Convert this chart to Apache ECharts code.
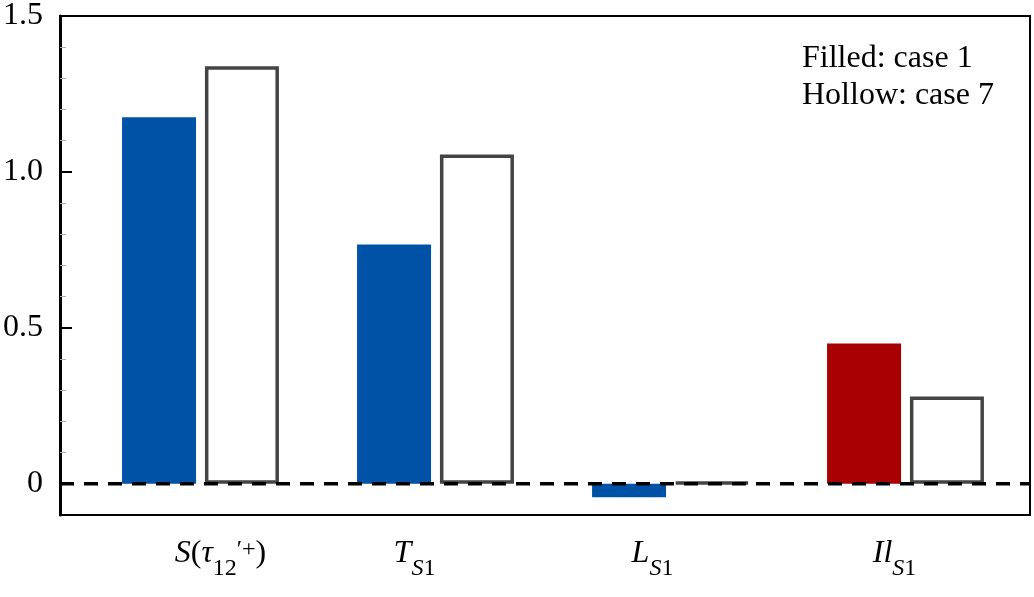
<!DOCTYPE html>
<html>
<head>
<meta charset="utf-8">
<script src="https://cdn.jsdelivr.net/npm/echarts@6/dist/echarts.min.js"></script>
<style>
html,body{margin:0;padding:0;background:#fff;}
#chart{width:1034px;height:597px;}
</style>
</head>
<body>
<div id="chart"></div>
<script>
// ---- data ----
const categories = ['S(τ12′+)', 'T_S1', 'L_S1', 'Il_S1'];
const case1Values = [1.173, 0.766, -0.043, 0.449];   // filled
const case7Values = [1.336, 1.054, 0.005, 0.279];    // hollow
const case1Colors = ['#0052a7', '#0052a7', '#0052a7', '#a80000'];
const majorTicks = [0, 0.5, 1.0, 1.5];
const majorTickLabels = ['0', '0.5', '1.0', '1.5'];
const minorTicks = [0.1, 0.2, 0.3, 0.4, 0.6, 0.7, 0.8, 0.9, 1.1, 1.2, 1.3, 1.4];
const zeroLine = [[0, 0], [1, 0]];
const legendLines = ['Filled: case 1', 'Hollow: case 7'];

// rich-text forms of category labels
const richLabels = {
  'S(τ12′+)': '{padL|\u00a0}{it|S}{rm|(}{it|τ}{sub|12}{sup|′+}{rm|)}',
  'T_S1': '{it|T}{subi|S}{sub|1}{padA|\u00a0}',
  'L_S1': '{it|L}{subi|S}{sub|1}{padB|\u00a0}',
  'Il_S1': '{it|Il}{subi|S}{sub|1}{padC|\u00a0}'
};

const FONT = 'Liberation Serif, Times New Roman, serif';
const chart = echarts.init(document.getElementById('chart'), null, {renderer: 'canvas'});

const subBase = {fontFamily: FONT, fontSize: 24, color: '#000', verticalAlign: 'top', lineHeight: 24, padding: [19, 0, 0, 0]};
const option = {
  animation: false,
  backgroundColor: '#fff',
  grid: [
    {left: 58, right: 4, top: 15, bottom: 82, show: true, borderColor: '#000', borderWidth: 2, backgroundColor: 'transparent'},
    {left: 83, right: 11, top: 15, bottom: 82}
  ],
  xAxis: [
    {gridIndex: 0, type: 'value', min: 0, max: 1, show: false},
    {
      gridIndex: 1, type: 'category', data: categories,
      axisLine: {show: false}, axisTick: {show: false},
      axisLabel: {
        interval: 0,
        margin: 23,
        formatter: v => richLabels[v],
        rich: {
          it: {fontFamily: FONT, fontStyle: 'italic', fontSize: 32, color: '#000', verticalAlign: 'top', lineHeight: 34},
          rm: {fontFamily: FONT, fontSize: 32, color: '#000', verticalAlign: 'top', lineHeight: 34},
          sub: subBase,
          subi: Object.assign({}, subBase, {fontStyle: 'italic'}),
          sup: {fontFamily: FONT, fontSize: 24, color: '#000', verticalAlign: 'top', lineHeight: 16},
          padL: {width: 40},
          padA: {width: 42},
          padB: {width: 36},
          padC: {width: 22}
        }
      }
    }
  ],
  yAxis: [
    {
      gridIndex: 0, type: 'value', min: -0.1, max: 1.5, position: 'left',
      axisLine: {show: true, lineStyle: {color: '#000', width: 3}},
      axisTick: {show: true, inside: true, length: 12, customValues: majorTicks, lineStyle: {color: '#000', width: 2}},
      axisLabel: {
        show: true, customValues: majorTicks, margin: 17,
        formatter: v => majorTickLabels[majorTicks.findIndex(t => Math.abs(t - v) < 1e-9)],
        fontFamily: FONT, fontSize: 32, color: '#000'
      },
      splitLine: {show: false}
    },
    {
      gridIndex: 0, type: 'value', min: -0.1, max: 1.5, position: 'left', offset: 0,
      axisLine: {show: false},
      axisTick: {show: true, inside: true, length: 6, customValues: minorTicks, lineStyle: {color: '#aaa', width: 1}},
      axisLabel: {show: false},
      splitLine: {show: false}
    },
    {gridIndex: 1, type: 'value', min: -0.1, max: 1.5, show: false}
  ],
  series: [
    {
      type: 'bar', xAxisIndex: 1, yAxisIndex: 2,
      barWidth: 74, barGap: '12%',
      data: case1Values.map((v, i) => ({value: v, itemStyle: {color: case1Colors[i]}})),
      z: 2
    },
    {
      type: 'bar', xAxisIndex: 1, yAxisIndex: 2,
      barWidth: 74, barGap: '12%',
      data: case7Values,
      itemStyle: {color: '#fff', borderColor: '#444', borderWidth: 3.5},
      z: 2
    },
    {
      type: 'line', xAxisIndex: 0, yAxisIndex: 0,
      data: zeroLine, symbol: 'none', silent: true,
      lineStyle: {color: '#000', width: 3.5, type: [14, 10]},
      z: 10
    }
  ],
  graphic: [
    {
      type: 'text', left: 802, top: 40, z: 20,
      style: {text: legendLines.join('\n'), fontFamily: FONT, fontSize: 32, lineHeight: 37, fill: '#000'}
    }
  ]
};
chart.setOption(option);
</script>
</body>
</html>
